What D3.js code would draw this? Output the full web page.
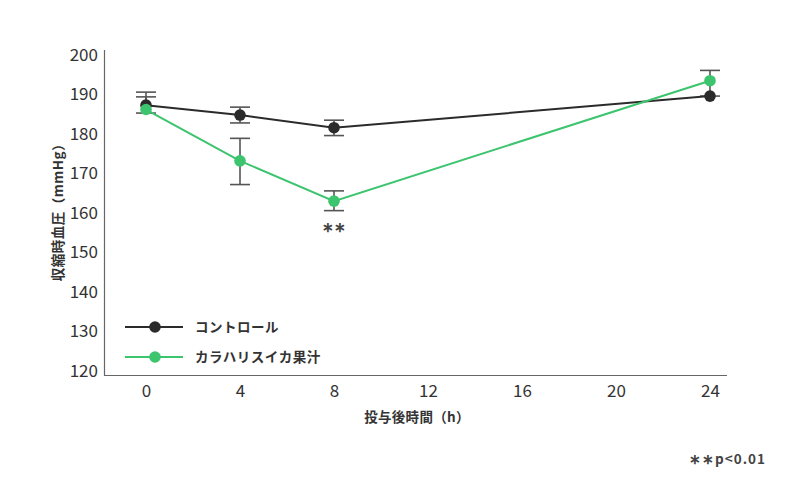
<!DOCTYPE html>
<html><head><meta charset="utf-8">
<script src="https://cdn.jsdelivr.net/npm/d3@7"></script>
<style>body{margin:0;background:#fff;} text{font-family:"Noto Sans CJK JP","Noto Sans",sans-serif;}</style>
</head><body><svg id="c" width="786" height="482"></svg>
<script>
const hours = [0, 4, 8, 24];
const xTicks = [0, 4, 8, 12, 16, 20, 24];
const yTicks = [120, 130, 140, 150, 160, 170, 180, 190, 200];
const seriesNames = ["コントロール", "カラハリスイカ果汁"];
const controlValues = [187.3, 184.8, 181.6, 189.6];
const controlUpper  = [190.6, 186.8, 183.5, 189.6];
const controlLower  = [185.3, 182.8, 179.6, 189.6];
const juiceValues = [186.2, 173.2, 163.0, 193.5];
const juiceUpper  = [189.4, 178.9, 165.6, 196.1];
const juiceLower  = [186.2, 167.2, 160.6, 189.6];
const colors = ["#2b2b2b", "#3cc46e"];

const svg = d3.select("#c");
const x = d3.scaleLinear().domain([0, 24]).range([146, 710]);
const y = d3.scaleLinear().domain([120, 200]).range([371, 55]);

// axes lines
svg.append("line").attr("x1", 104.5).attr("x2", 104.5).attr("y1", 50).attr("y2", 375.5).attr("stroke", "#666").attr("stroke-width", 1.2);
svg.append("line").attr("x1", 104).attr("x2", 727).attr("y1", 375.5).attr("y2", 375.5).attr("stroke", "#666").attr("stroke-width", 1.2);

const yAxis = svg.append("g").attr("transform", "translate(104,0)")
  .call(d3.axisLeft(y).tickValues(yTicks).tickSize(0).tickPadding(6));
yAxis.select(".domain").remove();
yAxis.selectAll("text").attr("font-size", 17).attr("fill", "#333").style("font-family", '"Noto Sans CJK JP",sans-serif');

const xAxis = svg.append("g").attr("transform", "translate(0,375)")
  .call(d3.axisBottom(x).tickValues(xTicks).tickSize(0).tickPadding(10));
xAxis.select(".domain").remove();
xAxis.selectAll("text").attr("font-size", 17).attr("fill", "#333").style("font-family", '"Noto Sans CJK JP",sans-serif');

// axis titles
svg.append("text").attr("transform", "translate(63,209) rotate(-90)").attr("text-anchor", "middle")
  .attr("font-size", 13.5).attr("letter-spacing", 0.5).attr("font-weight", "bold").attr("fill", "#333").text("収縮時血圧（mmHg）");
svg.append("text").attr("x", 417).attr("y", 422).attr("text-anchor", "middle")
  .attr("font-size", 13.5).attr("letter-spacing", 0.3).attr("font-weight", "bold").attr("fill", "#333").text("投与後時間（h）");

const series = [
  {name: seriesNames[0], v: controlValues, hi: controlUpper, lo: controlLower, c: colors[0]},
  {name: seriesNames[1], v: juiceValues, hi: juiceUpper, lo: juiceLower, c: colors[1]}
];

// error bars
series.forEach(s => {
  const g = svg.append("g");
  hours.forEach((h, i) => {
    if (s.hi[i] === s.lo[i]) return;
    const cx = x(h);
    g.append("line").attr("x1", cx).attr("x2", cx).attr("y1", y(s.hi[i])).attr("y2", y(s.lo[i])).attr("stroke", "#555").attr("stroke-width", 1.6);
    [s.hi[i], s.lo[i]].forEach(val => {
      if (val === s.v[i]) return;
      g.append("line").attr("x1", cx - 10).attr("x2", cx + 10).attr("y1", y(val)).attr("y2", y(val)).attr("stroke", "#555").attr("stroke-width", 1.6);
    });
  });
});

const line = d3.line().x((d, i) => x(hours[i])).y(d => y(d));
series.forEach(s => {
  svg.append("path").datum(s.v).attr("d", line).attr("fill", "none").attr("stroke", s.c).attr("stroke-width", 2);
  svg.selectAll(null).data(s.v).enter().append("circle")
    .attr("cx", (d, i) => x(hours[i])).attr("cy", d => y(d)).attr("r", 5.8).attr("fill", s.c);
});

// significance
svg.append("text").attr("x", x(8)).attr("y", y(juiceLower[2]) + 21).attr("text-anchor", "middle")
  .attr("font-size", 14).attr("font-weight", "bold").attr("fill", "#444").text("∗∗");
svg.append("text").attr("x", 766).attr("y", 464).attr("text-anchor", "end")
  .attr("font-size", 13.5).attr("letter-spacing", 1).attr("font-weight", "bold").attr("fill", "#444").text("∗∗p<0.01");

// legend
series.forEach((s, i) => {
  const ly = 327 + i * 30;
  svg.append("line").attr("x1", 125).attr("x2", 183).attr("y1", ly).attr("y2", ly).attr("stroke", s.c).attr("stroke-width", 2);
  svg.append("circle").attr("cx", 155).attr("cy", ly).attr("r", 5.8).attr("fill", s.c);
  svg.append("text").attr("x", 195).attr("y", ly + 5).attr("font-size", 13.5).attr("letter-spacing", 0.5).attr("font-weight", "bold").attr("fill", "#333").text(s.name);
});
</script></body></html>
